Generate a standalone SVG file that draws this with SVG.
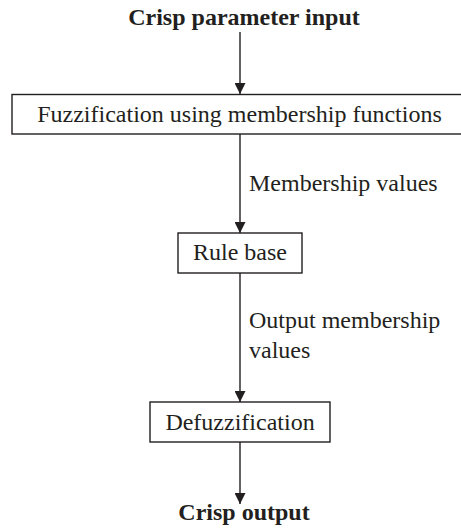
<svg xmlns="http://www.w3.org/2000/svg" width="461" height="528" viewBox="0 0 461 528">
<style>
.t{font-family:"Liberation Serif","Times New Roman",serif;font-size:24px;fill:#231f20}
.b{font-weight:bold;text-anchor:middle}
.m{text-anchor:middle}
.box{fill:#fff;stroke:#231f20;stroke-width:1.4}
.ln{stroke:#231f20;stroke-width:1.4;fill:none}
</style>
<defs>
<marker id="ah" markerWidth="12" markerHeight="11" refX="12" refY="6" orient="auto" markerUnits="userSpaceOnUse" viewBox="0 0 12 12">
<path d="M0,0 L12,6 L0,12 Z" fill="#231f20"/>
</marker>
</defs>
<g id="connectors">
<line class="ln" x1="240" y1="32" x2="240" y2="94" marker-end="url(#ah)"/>
<line class="ln" x1="240" y1="134" x2="240" y2="233" marker-end="url(#ah)"/>
<line class="ln" x1="240" y1="273" x2="240" y2="402" marker-end="url(#ah)"/>
<line class="ln" x1="240" y1="442" x2="240" y2="504" marker-end="url(#ah)"/>
<text class="t" x="249" y="191">Membership values</text>
<text class="t" x="249" y="328">Output membership</text>
<text class="t" x="249" y="358">values</text>
</g>
<g id="input"><text class="t b" x="244" y="25">Crisp parameter input</text></g>
<g id="fuzzification">
<rect class="box" x="12" y="94.5" width="460" height="39.5"/>
<text class="t m" x="239.5" y="122">Fuzzification using membership functions</text>
</g>
<g id="rulebase">
<rect class="box" x="178" y="233" width="124" height="40"/>
<text class="t m" x="240" y="260">Rule base</text>
</g>
<g id="defuzzification">
<rect class="box" x="150" y="402" width="180" height="40"/>
<text class="t m" x="240" y="430">Defuzzification</text>
</g>
<g id="output"><text class="t b" x="244" y="520">Crisp output</text></g>
</svg>
